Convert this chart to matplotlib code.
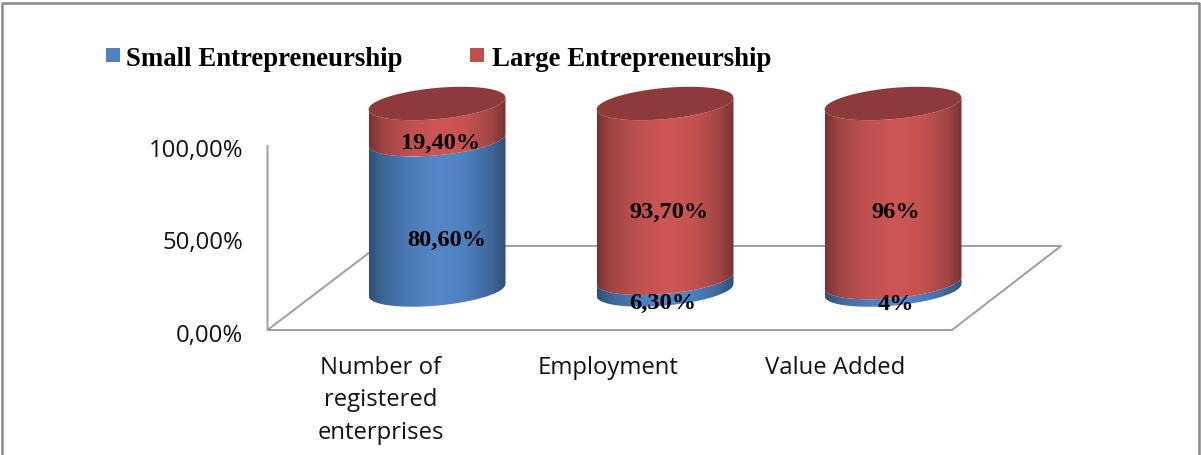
import numpy as np
import matplotlib
matplotlib.use("Agg")
import matplotlib.pyplot as plt
from matplotlib.colors import LinearSegmentedColormap
from matplotlib.patches import Polygon, Rectangle

categories = ["Number of\nregistered\nenterprises", "Employment", "Value Added"]
small_values = [80.6, 6.3, 4.0]
large_values = [19.4, 93.7, 96.0]
small_labels = ["80,60%", "6,30%", "4%"]
large_labels = ["19,40%", "93,70%", "96%"]
series_names = ["Small Entrepreneurship", "Large Entrepreneurship"]
y_ticks = [0, 50, 100]
y_tick_labels = ["0,00%", "50,00%", "100,00%"]

W, H = 1201, 456
PX0, STEP = 437.0, 228.0   # pixel x of first category, pixels between categories
PY0, PPV = 291.0, 1.865    # pixel y of value 0 on cylinder axis, pixels per percent
HALF_W, TILT, MINOR = 68.5, 0.0876, 15.6

fig = plt.figure(figsize=(W / 100, H / 100), dpi=100)
ax = fig.add_axes([0, 0, 1, 1])
xlim = ((0 - PX0) / STEP, (W - PX0) / STEP)
ylim = ((PY0 - H) / PPV, PY0 / PPV)
ax.set_axis_off()


def px(x, y):
    return (x - PX0) / STEP, (PY0 - y) / PPV


def pline(xs, ys, color="#a0a0a0", lw=1.45, z=1):
    pts = [px(a, b) for a, b in zip(xs, ys)]
    ax.plot([p[0] for p in pts], [p[1] for p in pts], color=color, lw=lw, zorder=z,
            solid_capstyle="butt")


def ptext(x, y, s, **kw):
    a, b = px(x, y)
    ax.text(a, b, s, **kw)


# Chart frame
pline([2, 2, 1199, 1199], [456, 4, 4, 456], color="#8a8a8a", lw=1.8, z=1)
# Floor and wall
pline([267.5, 267.5, 952, 1061, 378, 267.5], [146, 331, 331, 247, 247, 331])

blue = LinearSegmentedColormap.from_list("b", [(0, "#2f4f78"), (0.1, "#3f6699"), (0.3, "#4c7cb8"),
                                               (0.5, "#5586c6"), (0.7, "#4f80bf"), (0.9, "#3f6699"), (1, "#2f4f78")])
red = LinearSegmentedColormap.from_list("r", [(0, "#773332"), (0.1, "#a04543"), (0.3, "#bd514f"),
                                              (0.5, "#cd5654"), (0.7, "#c65351"), (0.9, "#a04543"), (1, "#773332")])
grad = np.linspace(0, 1, 256).reshape(1, -1)
xpx = np.linspace(-HALF_W, HALF_W, 161)


def arc(i, value, sign=1):
    """Front (sign=1) or back (sign=-1) arc of the tilted ellipse, in data units."""
    dx = xpx
    dy = -TILT * dx + sign * MINOR * np.sqrt(np.clip(1 - (dx / HALF_W) ** 2, 0, 1))
    return i + dx / STEP, value - dy / PPV


def segment(i, v0, v1, cmap):
    xa, ya = arc(i, v0)
    xb, yb = arc(i, v1)
    poly = Polygon(np.column_stack([np.r_[xa, xb[::-1]], np.r_[ya, yb[::-1]]]),
                   closed=True, transform=ax.transData, fc="none", ec="none")
    ax.add_patch(poly)
    im = ax.imshow(grad, cmap=cmap, vmin=0, vmax=1, aspect="auto", zorder=3,
                   extent=[i - HALF_W / STEP, i + HALF_W / STEP, min(ya.min(), yb.min()), max(ya.max(), yb.max())])
    im.set_clip_path(poly)


for i, (s, l) in enumerate(zip(small_values, large_values)):
    segment(i, 0, s, blue)
    segment(i, s, s + l, red)
    xf, yf = arc(i, s + l, 1)
    xk, yk = arc(i, s + l, -1)
    ax.fill(np.r_[xf, xk[::-1]], np.r_[yf, yk[::-1]], color="#8d3b3a", lw=0, zorder=4)

# Data labels
serif = dict(family="Liberation Serif", weight="bold", color="black", ha="center", va="center",
             fontsize=17.6, zorder=6)
small_pos = [(447, 240), (663, 303), (896, 305)]
large_pos = [(441, 143), (669, 212), (896, 213)]
for (x, y), s in zip(small_pos, small_labels):
    ptext(x, y, s, **serif)
for (x, y), s in zip(large_pos, large_labels):
    ptext(x, y, s, **serif)

# Axis labels
sans = dict(family="Open Sans", color="#111111", fontsize=17.2, zorder=6)
for v, s in zip(y_ticks, y_tick_labels):
    ptext(243, 331 - v * 1.85 + 5, s, ha="right", va="center", **sans)
cat_x = [381, 608, 835]
for x, c in zip(cat_x, categories):
    for k, line in enumerate(c.split("\n")):
        ptext(x, 368 + k * 32.5, line, ha="center", va="center", **sans)

# Legend
leg_x = [106, 470]
leg_text_x = [126, 492]
leg_cols = ["#4f81bd", "#c0504d"]
for x, tx, c, name in zip(leg_x, leg_text_x, leg_cols, series_names):
    a, b = px(x, 63)
    ax.add_patch(Rectangle((a, b), 14 / STEP, 14 / PPV, fc=c, ec="none", zorder=6))
    ptext(tx, 60, name, ha="left", va="center", family="Liberation Serif", weight="bold",
          color="black", fontsize=19.25, zorder=6)

ax.set_xlim(*xlim)
ax.set_ylim(*ylim)
fig.savefig("out.png", dpi=100, facecolor="white")
